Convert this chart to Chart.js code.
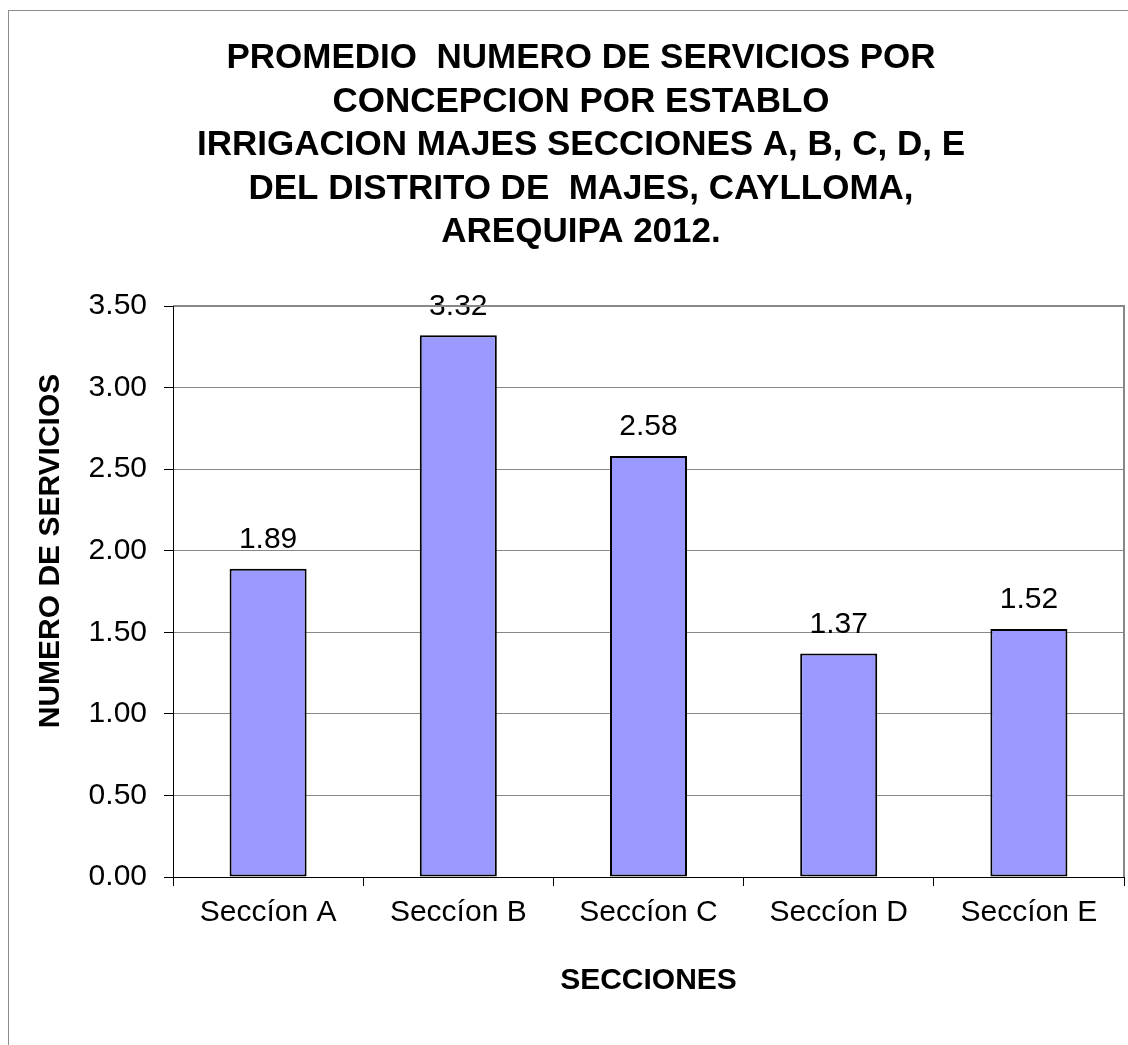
<!DOCTYPE html>
<html>
<head>
<meta charset="utf-8">
<script src="https://cdn.jsdelivr.net/npm/chart.js@4.4.0/dist/chart.umd.min.js"></script>
<style>
  html, body { margin: 0; padding: 0; background: #fff; }
  #wrap { width: 1128px; height: 1045px; position: relative; }
</style>
</head>
<body>
<div id="wrap"><canvas id="c" width="1128" height="1045"></canvas></div>
<script>
const categories = ["Seccíon A", "Seccíon B", "Seccíon C", "Seccíon D", "Seccíon E"];
const values = [1.89, 3.32, 2.58, 1.37, 1.52];
const yTicks = [0, 0.5, 1.0, 1.5, 2.0, 2.5, 3.0, 3.5];
const titleLines = [
  "PROMEDIO  NUMERO DE SERVICIOS POR",
  "CONCEPCION POR ESTABLO",
  "IRRIGACION MAJES SECCIONES A, B, C, D, E",
  "DEL DISTRITO DE  MAJES, CAYLLOMA,",
  "AREQUIPA 2012."
];
const yTitle = "NUMERO DE SERVICIOS";
const xTitle = "SECCIONES";

const FONT = "'Liberation Sans', Arial, sans-serif";

const framePlugin = {
  id: 'frame',
  beforeDraw(chart) {
    const ctx = chart.ctx;
    ctx.save();
    ctx.fillStyle = '#fff';
    ctx.fillRect(0, 0, chart.width, chart.height);
    ctx.strokeStyle = '#8c8c8c';
    ctx.lineWidth = 1;
    ctx.strokeRect(8.5, 10.5, 3000, 3000);
    ctx.restore();
  },
  afterDraw(chart) {
    const ctx = chart.ctx;
    const a = chart.chartArea;
    ctx.save();
    ctx.strokeStyle = '#888';
    ctx.lineWidth = 2;
    ctx.beginPath();
    ctx.moveTo(a.left, a.top);
    ctx.lineTo(a.right, a.top);
    ctx.lineTo(a.right, a.bottom);
    ctx.stroke();
    ctx.strokeStyle = '#000';
    ctx.lineWidth = 1;
    ctx.beginPath();
    ctx.moveTo(a.left + 0.5, a.top);
    ctx.lineTo(a.left + 0.5, a.bottom + 0.5);
    ctx.lineTo(a.right, a.bottom + 0.5);
    ctx.stroke();
    // y axis title (positioned as in the reference, slightly above the plot centre)
    ctx.fillStyle = '#000';
    ctx.font = "bold 30px " + FONT;
    ctx.textAlign = 'center';
    ctx.textBaseline = 'middle';
    ctx.translate(51, 551);
    ctx.rotate(-Math.PI / 2);
    ctx.fillText(yTitle, 0, 0);
    ctx.restore();
  }
};

const labelPlugin = {
  id: 'barLabels',
  afterDatasetsDraw(chart) {
    const ctx = chart.ctx;
    const meta = chart.getDatasetMeta(0);
    ctx.save();
    ctx.fillStyle = '#000';
    ctx.font = "30px " + FONT;
    ctx.textAlign = 'center';
    ctx.textBaseline = 'middle';
    meta.data.forEach((bar, i) => {
      ctx.fillText(values[i].toFixed(2), bar.x, bar.y - 29);
    });
    ctx.restore();
  }
};

new Chart(document.getElementById('c'), {
  type: 'bar',
  data: {
    labels: categories,
    datasets: [{
      data: values,
      backgroundColor: '#9999ff',
      borderColor: '#000',
      borderWidth: 2,
      borderSkipped: false,
      barPercentage: 0.405,
      categoryPercentage: 1.0
    }]
  },
  options: {
    responsive: false,
    animation: false,
    devicePixelRatio: 1,
    layout: { padding: { left: 38, right: 4, top: 0, bottom: 0 } },
    plugins: {
      legend: { display: false },
      tooltip: { enabled: false },
      title: {
        display: true,
        text: titleLines,
        color: '#000',
        font: { family: FONT, size: 35, weight: 'bold', lineHeight: 43.5 / 35 },
        padding: { top: 36.75, bottom: 51.75 }
      }
    },
    scales: {
      x: {
        grid: {
          display: true,
          drawOnChartArea: false,
          drawTicks: true,
          tickLength: 9,
          color: '#000',
          offset: true
        },
        border: { display: true, color: '#000', width: 1 },
        ticks: {
          color: '#000',
          font: { family: FONT, size: 30 },
          padding: 9,
          maxRotation: 0,
          autoSkip: false
        },
        title: {
          display: true,
          text: xTitle,
          color: '#000',
          font: { family: FONT, size: 30, weight: 'bold', lineHeight: 1.2 },
          padding: { top: 0, bottom: 46 }
        },
        afterFit(scale) { scale.height = 1045 - 877; }
      },
      y: {
        min: 0,
        max: 3.5,
        afterBuildTicks(scale) { scale.ticks = yTicks.map(v => ({ value: v })); },
        grid: {
          color: ctx => (ctx.tick && ctx.tick.value === 0) ? '#000' : '#888',
          tickColor: '#000',
          lineWidth: 1,
          tickLength: 9
        },
        border: { display: true, color: '#000', width: 1 },
        ticks: {
          color: '#000',
          font: { family: FONT, size: 30 },
          padding: 17,
          callback: v => Number(v).toFixed(2)
        },
        title: { display: false },
        afterFit(scale) { scale.width = 173 - 38; }
      }
    }
  },
  plugins: [framePlugin, labelPlugin]
});
</script>
</body>
</html>
